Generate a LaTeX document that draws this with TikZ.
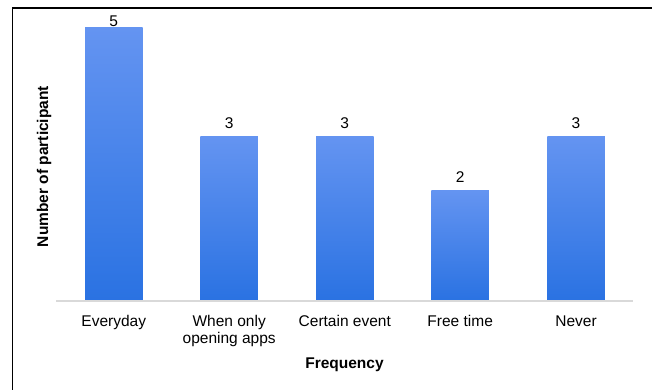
\documentclass[tikz,border=0pt]{standalone}
\usepackage{fontspec}
\setmainfont{Liberation Sans}
\begin{document}
\begin{tikzpicture}[x=1pt,y=-1pt,
  bar/.style={anchor=south,inner sep=0pt,minimum width=57.5pt,draw=none,
    top color={rgb,255:red,100;green,148;blue,241},
    middle color={rgb,255:red,67;green,136;blue,246},
    bottom color={rgb,255:red,42;green,114;blue,226}},
  lbl/.style={anchor=base,inner sep=0pt,font=\fontsize{15.5}{17.5}\selectfont,align=center},
  ttl/.style={anchor=base,inner sep=0pt,font=\fontsize{15.5}{17.5}\selectfont\bfseries}]
\useasboundingbox (0,0) rectangle (652,390);
\fill[white] (0,0) rectangle (652,390);
% frame
\draw[black,line width=1.3pt] (12.5,390) -- (12.5,8) -- (652,8);
% bars
\node[bar,minimum height=273pt] (b1) at (113.8,301) {};
\node[bar,minimum height=164pt] (b2) at (229.2,301) {};
\node[bar,minimum height=164pt] (b3) at (344.8,301) {};
\node[bar,minimum height=110pt] (b4) at (460.2,301) {};
\node[bar,minimum height=164pt] (b5) at (576,301) {};
% baseline
\coordinate (ax0) at (56,301);
\coordinate (ax1) at (633,301);
\draw[color={rgb,255:red,217;green,217;blue,217},line width=1.3pt] (ax0) -- (ax1);
% value labels
\node[lbl] (v1) at (113.8,27) {5};
\node[lbl] (v2) at (229.2,129) {3};
\node[lbl] (v3) at (344.8,129) {3};
\node[lbl] (v4) at (460.2,182) {2};
\node[lbl] (v5) at (576,129) {3};
% category labels
\node[lbl] (c1) at (113.8,326) {Everyday};
\node[lbl,anchor=base] (c2) at (229.2,326) {When only};
\node[lbl] (c2b) at (229.2,343.5) {opening apps};
\node[lbl] (c3) at (344.8,326) {Certain event};
\node[lbl] (c4) at (460.2,326) {Free time};
\node[lbl] (c5) at (576,326) {Never};
% axis titles
\node[ttl] (xt) at (344.5,368) {Frequency};
\node[ttl,anchor=center,rotate=90] (yt) at (44,166.5) {Number of participant};
\end{tikzpicture}
\end{document}
